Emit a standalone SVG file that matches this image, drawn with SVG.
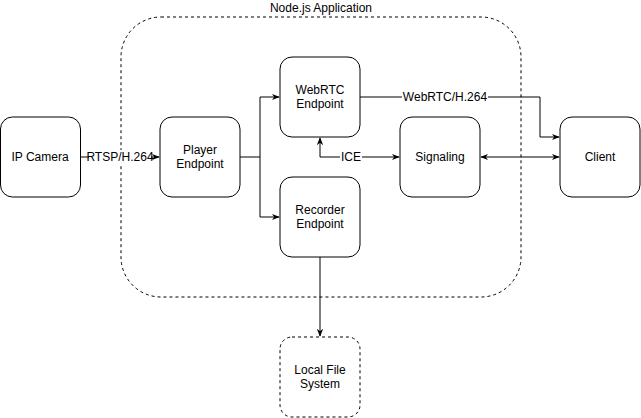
<svg xmlns="http://www.w3.org/2000/svg" width="641" height="418" viewBox="0 0 641 418">
<style>
.n{fill:#fff;stroke:#000;stroke-width:1}
.d{stroke-dasharray:3 3}
.t{font-family:"Liberation Sans",Arial,sans-serif;font-size:12px;fill:#000;text-anchor:middle}
.c{fill:none;stroke:#000;stroke-width:1}
.lb{fill:#fff}
</style>
<defs>
<marker id="a" viewBox="0 0 10 10" refX="9" refY="5" markerWidth="8" markerHeight="8" orient="auto-start-reverse" markerUnits="userSpaceOnUse">
<path d="M0,1 L10,5 L0,9 L3,5 Z" fill="#000"/>
</marker>
</defs>
<rect width="641" height="418" fill="#fff"/>
<g id="app">
<rect class="n d" x="121" y="17" width="400" height="280" rx="40" ry="40" fill="none"/>
<text class="t" x="321" y="12">Node.js Application</text>
</g>
<g id="connectors">
<path class="c" d="M80,157 H159" marker-end="url(#a)"/>
<path class="c" d="M240,157 H260 V97 H279" marker-end="url(#a)"/>
<path class="c" d="M260,157 V217 H279" marker-end="url(#a)"/>
<path class="c" d="M360,97 H540 V137 H559" marker-end="url(#a)"/>
<path class="c" d="M320,138 V157 H399" marker-start="url(#a)" marker-end="url(#a)"/>
<path class="c" d="M481,157 H559" marker-start="url(#a)" marker-end="url(#a)"/>
<path class="c" d="M320,257 V336" marker-end="url(#a)"/>
<rect class="lb" x="89" y="150" width="62" height="14"/>
<text class="t" x="120" y="161">RTSP/H.264</text>
<rect class="lb" x="402" y="90" width="86" height="14"/>
<text class="t" x="445" y="101">WebRTC/H.264</text>
<rect class="lb" x="340" y="150" width="22" height="14"/>
<text class="t" x="351" y="161">ICE</text>
</g>
<g id="ipcamera">
<rect class="n" x="0.5" y="117" width="80" height="80" rx="12"/>
<text class="t" x="40" y="161">IP Camera</text>
</g>
<g id="player">
<rect class="n" x="160" y="117" width="80" height="80" rx="12"/>
<text class="t" x="200" y="154">Player</text>
<text class="t" x="200" y="168">Endpoint</text>
</g>
<g id="webrtc">
<rect class="n" x="280" y="57" width="80" height="80" rx="12"/>
<text class="t" x="320" y="94">WebRTC</text>
<text class="t" x="320" y="108">Endpoint</text>
</g>
<g id="recorder">
<rect class="n" x="280" y="177" width="80" height="80" rx="12"/>
<text class="t" x="320" y="214">Recorder</text>
<text class="t" x="320" y="228">Endpoint</text>
</g>
<g id="signaling">
<rect class="n" x="400" y="117" width="80" height="80" rx="12"/>
<text class="t" x="440" y="161">Signaling</text>
</g>
<g id="client">
<rect class="n" x="560" y="117" width="80" height="80" rx="12"/>
<text class="t" x="600" y="161">Client</text>
</g>
<g id="localfs">
<rect class="n d" x="280" y="337" width="80" height="80" rx="12"/>
<text class="t" x="320" y="374">Local File</text>
<text class="t" x="320" y="388">System</text>
</g>
</svg>
